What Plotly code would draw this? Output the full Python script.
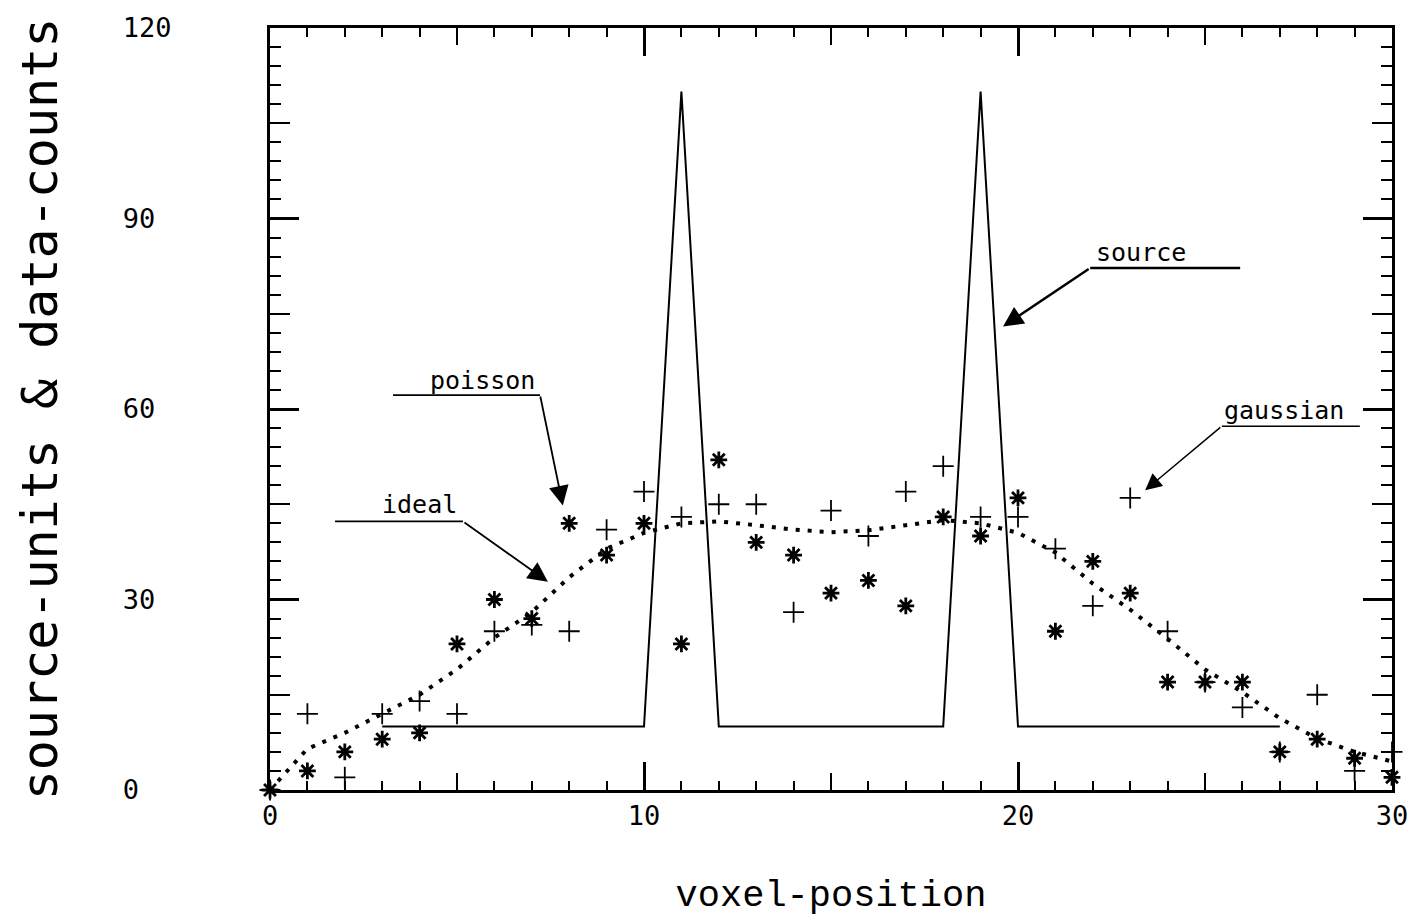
import plotly.graph_objects as go

# ---- data ----
voxel = list(range(0, 31))
ideal = [0, 6.5, 9, 12, 15, 19, 24, 28, 33.5, 38, 40.5, 42, 42.3, 41.7, 41, 40.6,
         40.9, 41.7, 42.5, 42, 40.5, 37.4, 32.5, 28.4, 23.8, 19, 15.4, 11.3, 8.1, 6, 4.5]
poisson = [0, 3, 6, 8, 9, 23, 30, 27, 42, 37, 42, 23, 52, 39, 37, 31, 33, 29, 43, 40,
           46, 25, 36, 31, 17, 17, 17, 6, 8, 5, 2]
gaussian = [0, 12, 2, 12, 14, 12, 25, 26, 25, 41, 47, 43, 45, 45, 28, 44, 40, 47, 51, 43,
            43, 38, 29, 46, 25, 17, 13, 6, 15, 3, 6]
source_x = [3, 10, 11, 12, 18, 19, 20, 27]
source_y = [10, 10, 110, 10, 10, 110, 10, 10]

x_ticks = [0, 10, 20, 30]
y_ticks = [0, 30, 60, 90, 120]
y_ticktext = ["0\u00a0\u00a0", "30\u00a0", "60\u00a0", "90\u00a0", "120"]

# annotation label: (text, text_x, text_y, line_x0, line_x1, line_y, arrow_start_x, tip_x, tip_y, width)
labels = [
    ("source", 23.3, 84.7, 21.93, 25.94, 82.2, 21.93, 19.6, 73.0, 2.5),
    ("poisson", 5.67, 64.5, 3.29, 7.22, 62.2, 7.22, 7.83, 44.8, 1.8),
    ("ideal", 4.01, 45.0, 1.74, 5.16, 42.3, 5.16, 7.43, 32.8, 1.8),
    ("gaussian", 27.1, 59.7, 25.45, 29.14, 57.3, 25.45, 23.4, 47.2, 1.5),
]

fig = go.Figure()
fig.add_trace(go.Scatter(x=source_x, y=source_y, mode="lines",
                         line=dict(color="black", width=2), name="source",
                         cliponaxis=False))
fig.add_trace(go.Scatter(x=voxel, y=ideal, mode="lines",
                         line=dict(color="black", width=4, dash="4px,8px"),
                         name="ideal", cliponaxis=False))
fig.add_trace(go.Scatter(x=voxel, y=gaussian, mode="markers",
                         marker=dict(symbol="cross-thin-open", size=15, color="black",
                                     line=dict(color="black", width=1.8)),
                         name="gaussian", cliponaxis=False))
fig.add_trace(go.Scatter(x=voxel, y=poisson, mode="markers",
                         marker=dict(symbol="asterisk-open", size=14, color="black",
                                     line=dict(color="black", width=2.8)),
                         name="poisson", cliponaxis=False))
# empty trace so the overlay axes (medium ticks) get drawn
fig.add_trace(go.Scatter(x=[None], y=[None], xaxis="x2", yaxis="y2", mode="markers",
                         showlegend=False, hoverinfo="skip"))

for text, tx, ty, lx0, lx1, ly, sx, px, py, w in labels:
    fig.add_annotation(x=tx, y=ty, xref="x", yref="y", text=text, showarrow=False,
                       font=dict(family="DejaVu Sans Mono", size=25, color="black"))
    fig.add_shape(type="line", x0=lx0, x1=lx1, y0=ly, y1=ly, xref="x", yref="y",
                  line=dict(color="black", width=w))
    fig.add_annotation(x=px, y=py, ax=sx, ay=ly,
                       xref="x", yref="y", axref="x", ayref="y", text="",
                       showarrow=True, arrowhead=2, arrowsize=1.6 if w > 2 else 2.2,
                       arrowwidth=w, arrowcolor="black")

tickfont = dict(family="DejaVu Sans Mono", size=27, color="black")

fig.update_layout(
    width=1424, height=919,
    margin=dict(l=270, r=32, t=24, b=127),
    paper_bgcolor="white", plot_bgcolor="white",
    showlegend=False,
    xaxis=dict(range=[0, 30], tickvals=x_ticks, ticktext=[str(v) for v in x_ticks],
               ticks="inside", ticklen=28, tickwidth=2.5, tickcolor="black",
               minor=dict(dtick=1, tick0=0, ticks="inside", ticklen=9, tickwidth=2,
                          tickcolor="black"),
               showline=True, linewidth=3, linecolor="black", mirror="ticks",
               showgrid=False, zeroline=False, tickfont=tickfont,
               ticklabelstandoff=0,
               title=dict(text="voxel-position", standoff=50,
                          font=dict(family="Liberation Mono", size=37, color="black"))),
    xaxis2=dict(range=[0, 30], overlaying="x", side="bottom", anchor="y2",
                tickmode="linear", tick0=0, dtick=5, ticks="inside", ticklen=17,
                tickwidth=2, tickcolor="black", showticklabels=False,
                showline=False, mirror="ticks", showgrid=False, zeroline=False),
    yaxis=dict(range=[0, 120], tickvals=y_ticks, ticktext=y_ticktext,
               ticks="inside", ticklen=29, tickwidth=2.5, tickcolor="black",
               minor=dict(dtick=3, tick0=0, ticks="inside", ticklen=11, tickwidth=2,
                          tickcolor="black"),
               showline=True, linewidth=3, linecolor="black", mirror="ticks",
               showgrid=False, zeroline=False, tickfont=tickfont,
               ticklabelstandoff=90,
               title=dict(text="source-units & data-counts", standoff=50,
                          font=dict(family="DejaVu Sans Mono", size=50, color="black"))),
    yaxis2=dict(range=[0, 120], overlaying="y", side="left", anchor="x2",
                tickmode="linear", tick0=0, dtick=15, ticks="inside", ticklen=20,
                tickwidth=2, tickcolor="black", showticklabels=False,
                showline=False, mirror="ticks", showgrid=False, zeroline=False),
)

fig.write_html("out.html")
